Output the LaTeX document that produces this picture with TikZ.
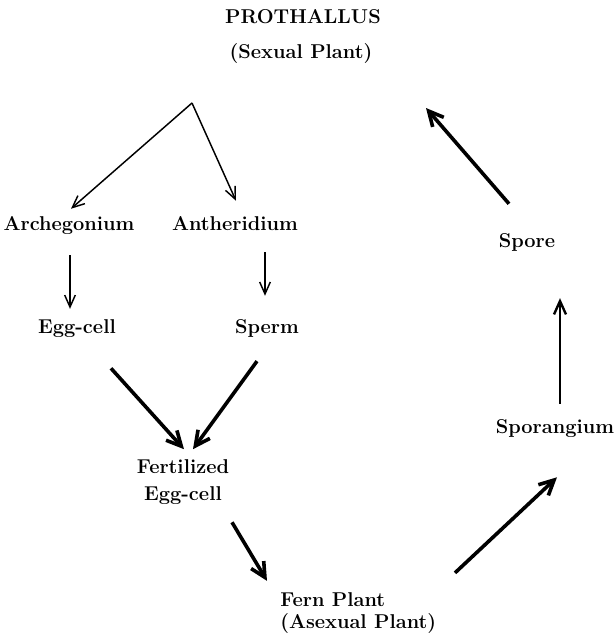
\documentclass[tikz,border=0pt]{standalone}
\usepackage{tikz}
\usetikzlibrary{calc,arrows.meta}

\begin{document}
\begin{tikzpicture}[
        x=0.75pt, y=-0.75pt,
        % Styles
        lbl/.style={inner sep=0pt, anchor=base, font=\fontsize{15}{20}\selectfont\bfseries},
        thinarrow/.style={-{Straight Barb[length=9pt, width=8pt]}, line width=1.1pt},
        midarrow/.style={-{Straight Barb[length=10pt, width=9pt]}, line width=1.8pt},
        thickarrow/.style={-{Straight Barb[length=11pt, width=11pt]}, line width=2.7pt}
    ]
        \useasboundingbox (0,0) rectangle (615,637);

        % Nodes
        \node[lbl] (prothallus) at (303,23) {PROTHALLUS};
        \node[lbl] (sexual) at (301,58) {(Sexual Plant)};
        \coordinate (apex) at (192,103);
        \coordinate (prothend) at (426,108);

        \node[lbl] (archeg) at (69,230) {Archegonium};
        \node[lbl] (antherid) at (235,230) {Antheridium};
        \node[lbl] (egg) at (77,333) {Egg-cell};
        \node[lbl] (sperm) at (267,333) {Sperm};
        \node[lbl, align=center] (fert) at (183,500) {Fertilized\\Egg-cell};
        \node[lbl, anchor=base west, align=left] (fern) at (280,628) {Fern Plant\\[-3.5pt](Asexual Plant)};
        \node[lbl] (sporang) at (555,433) {Sporangium};
        \node[lbl] (spore) at (527,247) {Spore};

        % Arrows
        \draw[thinarrow] (apex) -- ($(archeg.north)+(2,-7)$);
        \draw[thinarrow] (apex) -- ($(antherid.north)+(1,-15)$);
        \draw[thinarrow] ($(archeg.south)+(1,21)$) -- ($(egg.north)+(-7,-10)$);
        \draw[thinarrow] ($(antherid.south -| sperm.north)+(-2,22)$) -- ($(sperm.north)+(-2,-23)$);

        \draw[thickarrow] ($(egg.south)+(34,31)$) -- ($(fert.north)+(1,-10)$);
        \draw[thickarrow] ($(sperm.south)+(-10,24)$) -- ($(fert.north)+(10,-10)$);
        \draw[thickarrow] ($(fert.south)+(49,18)$) -- ($(fern.north west)+(-13,-11)$);
        \draw[thickarrow] ($(fern.north west)+(175,-19)$) -- ($(sporang.south)+(2,40)$);

        % Back to the prothallus
        \draw[midarrow] ($(sporang.north)+(5,-15)$) -- ($(sporang.north |- spore.south)+(5,47)$);
        \draw[thickarrow] ($(spore.north)+(-18,-29)$) -- (prothend);

    \end{tikzpicture}
\end{document}
